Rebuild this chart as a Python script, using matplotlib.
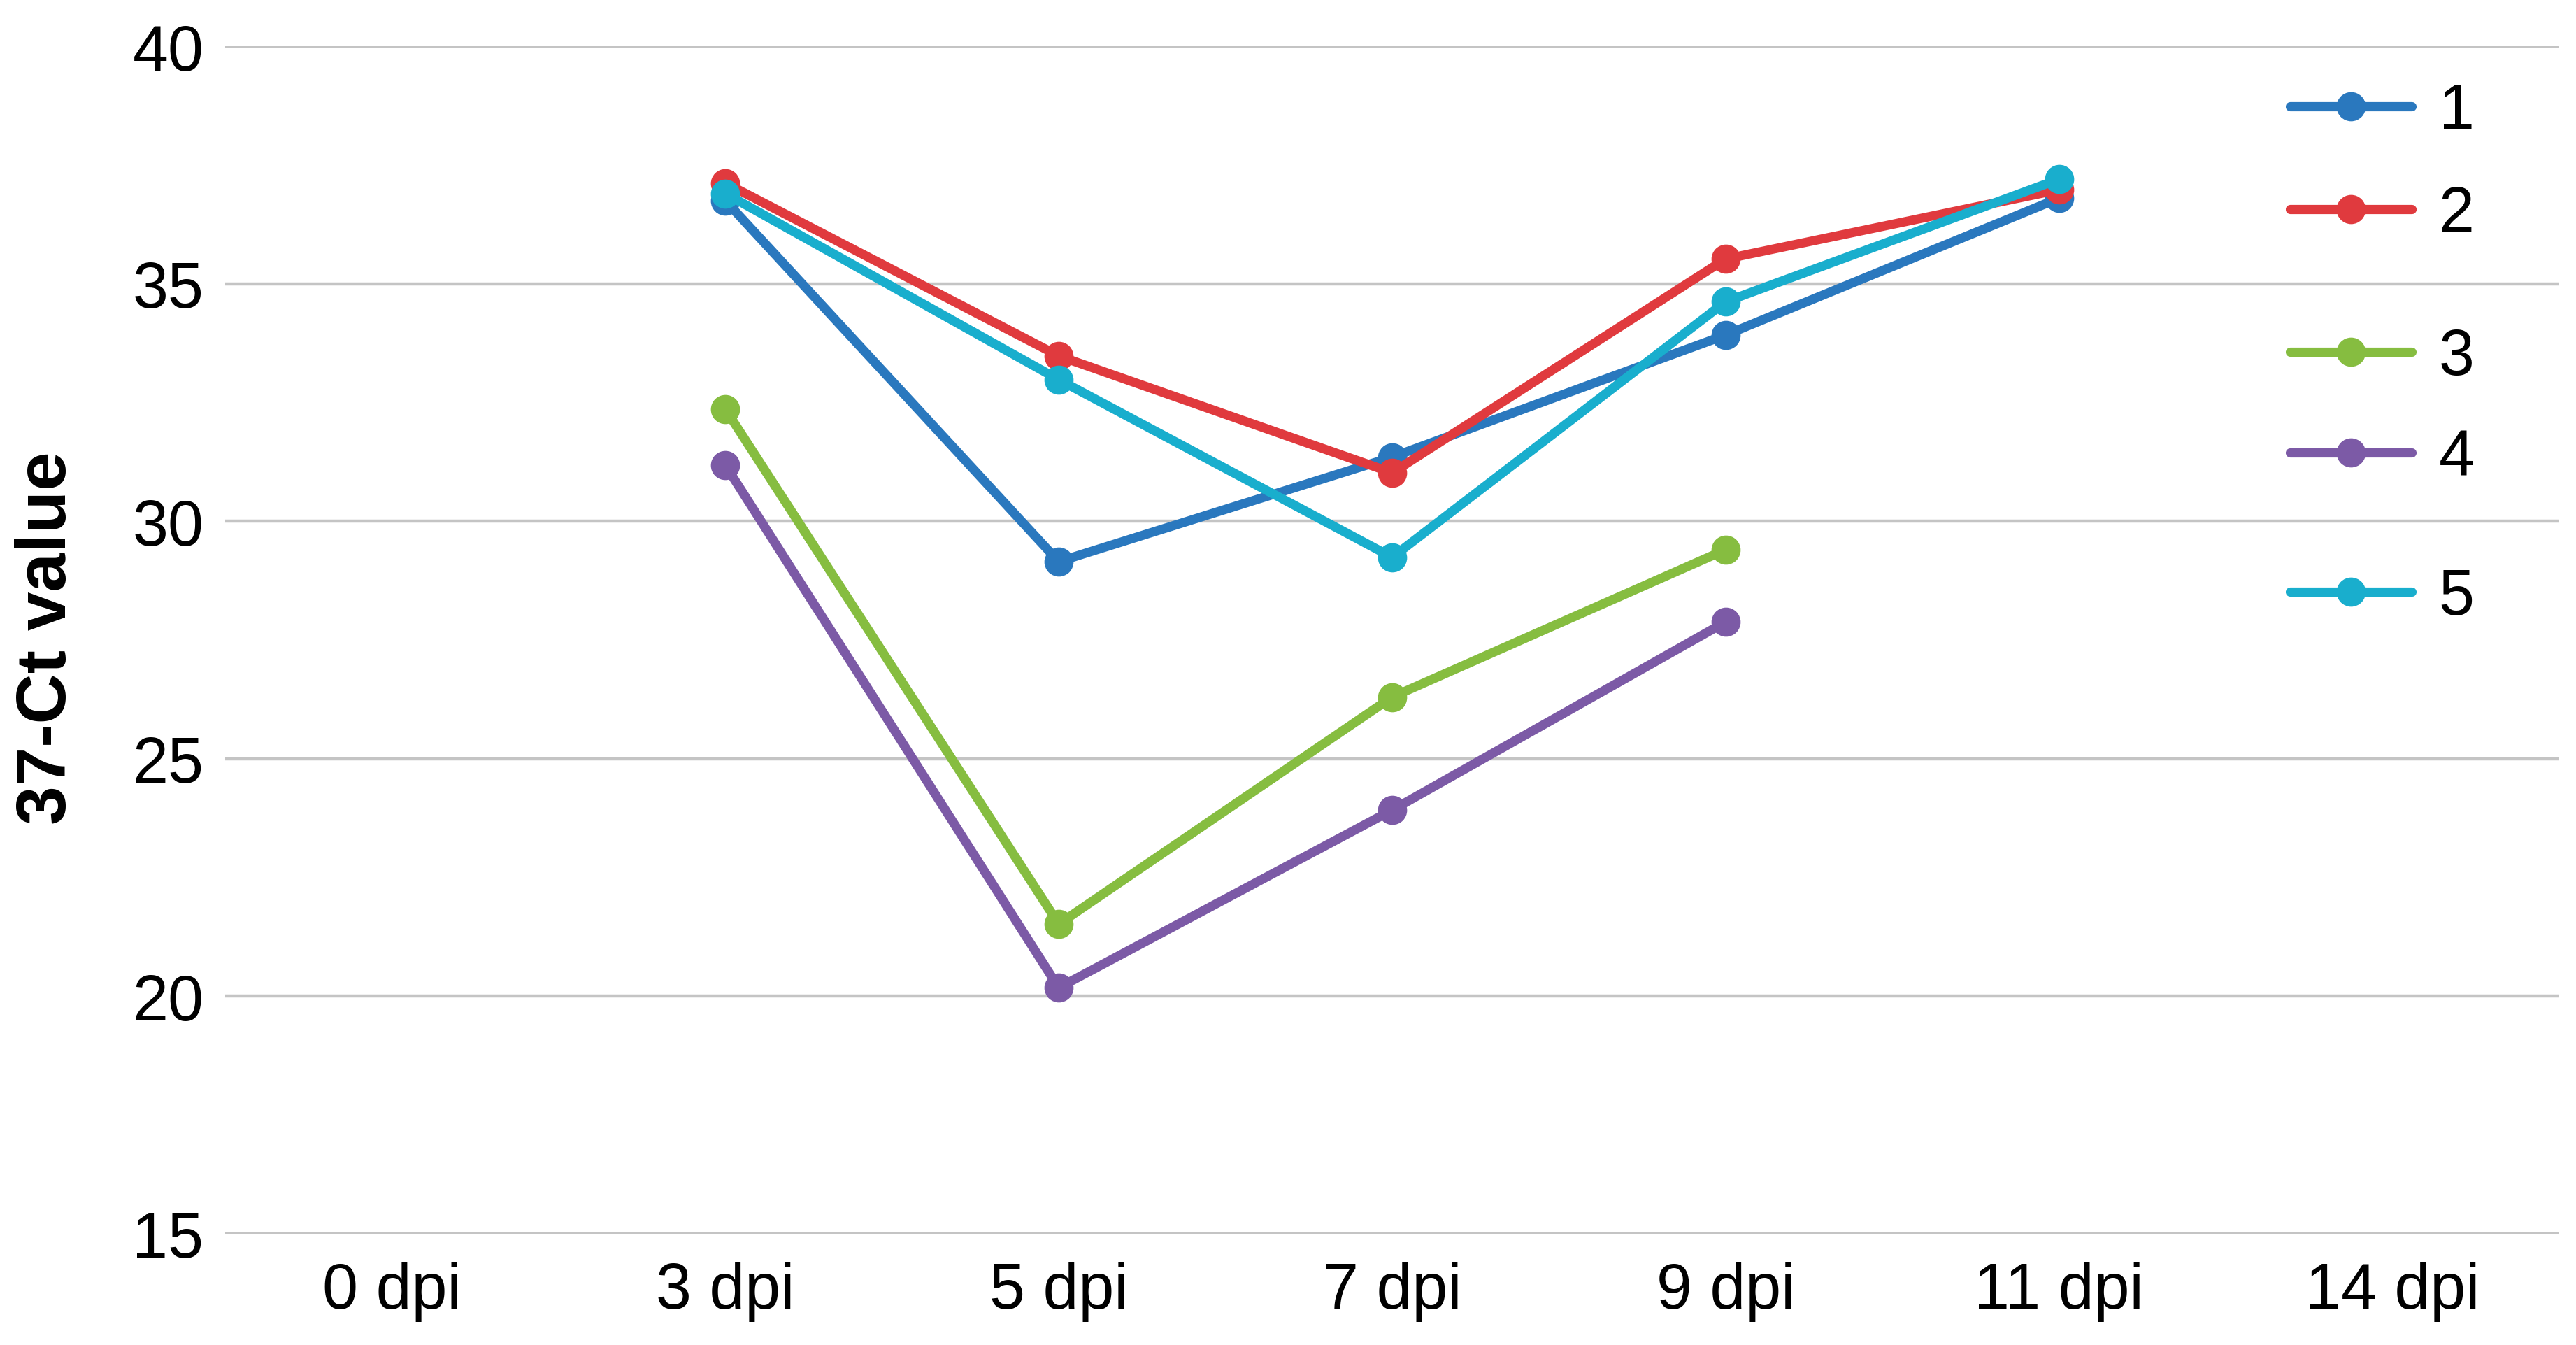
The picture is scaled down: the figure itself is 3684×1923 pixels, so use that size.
import numpy as np
import matplotlib
matplotlib.use("Agg")
import matplotlib.pyplot as plt
from matplotlib.lines import Line2D

# ---- data ----
categories = ["0 dpi", "3 dpi", "5 dpi", "7 dpi", "9 dpi", "11 dpi", "14 dpi"]
series_names = ["1", "2", "3", "4", "5"]
s1 = [np.nan, 36.75, 29.15, 31.35, 33.92, 36.8, np.nan]
s2 = [np.nan, 37.12, 33.48, 31.02, 35.52, 36.98, np.nan]
s3 = [np.nan, 32.36, 21.52, 26.3, 29.4, np.nan, np.nan]
s4 = [np.nan, 31.18, 20.18, 23.92, 27.88, np.nan, np.nan]
s5 = [np.nan, 36.9, 32.98, 29.24, 34.62, 37.2, np.nan]
series_values = [s1, s2, s3, s4, s5]
colors = ["#2A78BE", "#E03A3E", "#86BD40", "#7C5AA6", "#19AECD"]
yticks = [15, 20, 25, 30, 35, 40]

plt.rcParams['font.family'] = ['Liberation Sans', 'DejaVu Sans']

W, H = 3684, 1924
fig = plt.figure(figsize=(W / 100, H / 100), dpi=100)
ax = fig.add_axes([322 / W, 1 - 1765 / H, (3660 - 322) / W, (1765 - 67) / H])

x = np.arange(len(categories))
lw = 9.5
ms = 29
for name, vals, c in zip(series_names, series_values, colors):
    ax.plot(x, vals, color=c, lw=lw, marker='o', ms=ms, mec=c, mfc=c,
            solid_capstyle='round', solid_joinstyle='round', label=name, zorder=3)

ax.set_xlim(-0.5, len(categories) - 0.5)
ax.set_ylim(15, 40)
ax.set_yticks(yticks)
ax.set_xticks(x)
ax.set_xticklabels(categories)
ax.tick_params(axis='both', length=0, labelsize=66, colors='black')
ax.tick_params(axis='y', pad=22)
ax.tick_params(axis='x', pad=28)
for sp in ax.spines.values():
    sp.set_visible(False)
ax.yaxis.grid(True, color='#C4C4C4', lw=3.2)
ax.set_axisbelow(True)

fig.text(68 / W, 1 - 912 / H, "37-Ct value", fontsize=72, fontweight='bold',
         rotation=90, ha='center', va='center')

# legend entries placed individually (uneven spacing as in reference)
leg_rows = [161, 308, 512, 656, 855]
for name, c, yrow in zip(series_names, colors, leg_rows):
    h = Line2D([], [], color=c, lw=lw, marker='o', ms=ms, mfc=c, mec=c,
               solid_capstyle='round')
    fig.legend([h], [name], loc='center left',
               bbox_to_anchor=(3275 / W, 1 - yrow / H),
               frameon=False, fontsize=66, borderpad=0, borderaxespad=0,
               handlelength=1.9, handletextpad=0.42, numpoints=1)

fig.savefig("out.png", dpi=100, facecolor='white')
